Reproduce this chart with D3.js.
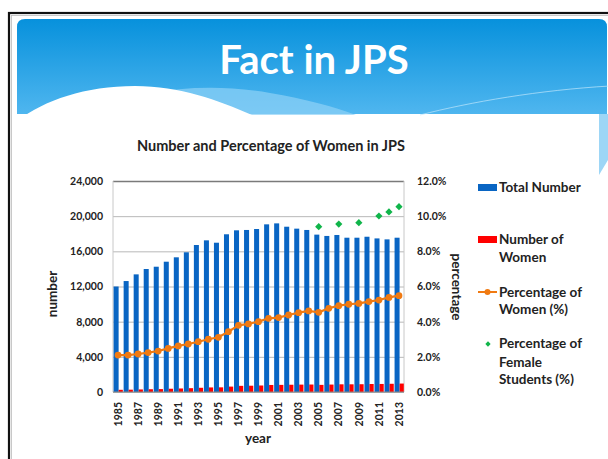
<!DOCTYPE html>
<html>
<head>
<meta charset="utf-8">
<script src="https://cdn.jsdelivr.net/npm/d3@7"></script>
<style>
  body { margin: 0; background: #fff; }
  text { font-family: Lato, "Open Sans", sans-serif; font-weight: bold; }
</style>
</head>
<body>
<div class="slide"></div>
<script>
var years = d3.range(1985, 2014);
var totalNumber = [12000, 12620, 13380, 13990, 14250, 14820, 15320, 15890, 16720, 17250,
  16980, 17940, 18390, 18430, 18540, 19070, 19180, 18800, 18580, 18430,
  17900, 17750, 17860, 17550, 17550, 17660, 17470, 17360, 17550];
var numberWomen = [250, 265, 290, 315, 330, 370, 400, 435, 480, 520,
  530, 615, 700, 715, 740, 800, 810, 825, 840, 850,
  810, 845, 875, 875, 885, 910, 915, 935, 960];
var pctWomen = [2.10, 2.10, 2.16, 2.24, 2.33, 2.48, 2.62, 2.73, 2.86, 3.00,
  3.11, 3.43, 3.79, 3.87, 4.00, 4.19, 4.23, 4.38, 4.51, 4.61,
  4.53, 4.76, 4.91, 4.99, 5.04, 5.14, 5.23, 5.38, 5.48];
var pctStudents = [null, null, null, null, null, null, null, null, null, null,
  null, null, null, null, null, null, null, null, null, null,
  9.40, null, 9.55, null, 9.63, null, 10.01, 10.24, 10.54];
var leftTicks = [0, 4000, 8000, 12000, 16000, 20000, 24000];
var rightTicks = [0, 2, 4, 6, 8, 10, 12];
var yearTicks = years.filter(function (y) { return y % 2 === 1; });

var W = 608, H = 459;
var svg = d3.select('.slide').append('svg')
  .attr('width', W).attr('height', H);

// ---- slide background ----
var defs = svg.append('defs');
var grad = defs.append('linearGradient').attr('id', 'hdr')
  .attr('x1', 0).attr('y1', 0).attr('x2', 0).attr('y2', 1);
grad.append('stop').attr('offset', '0%').attr('stop-color', '#0791dc');
grad.append('stop').attr('offset', '100%').attr('stop-color', '#4fb6ef');

svg.append('rect').attr('x', 9).attr('y', 13).attr('width', 620).attr('height', 470)
  .attr('fill', 'none').attr('stroke', '#111').attr('stroke-width', 2.2);
svg.append('rect').attr('x', 11.5).attr('y', 15.5).attr('width', 620).attr('height', 470)
  .attr('fill', 'none').attr('stroke', '#bbb').attr('stroke-width', 0.8);

svg.append('path')
  .attr('d', 'M17,114 L17,27 Q17,19 25,19 L599,19 Q607,19 607,27 L607,114 Z')
  .attr('fill', 'url(#hdr)');
svg.append('path')
  .attr('d', 'M150,93 C185,87 225,85 270,93 C305,99 335,107 356,115 L250,115 C220,103 190,95 150,93 Z')
  .attr('fill', '#8fd2f6').attr('opacity', 0.7);
svg.append('path')
  .attr('d', 'M420,115 C470,102 540,90 610,86')
  .attr('fill', 'none').attr('stroke', '#bfe6fb').attr('stroke-width', 1).attr('opacity', 0.7);
svg.append('path')
  .attr('d', 'M17,121 C45,100 85,86 135,86 C180,86 218,100 252,115 L17,115 Z')
  .attr('fill', '#fff');
svg.append('path')
  .attr('d', 'M599,114 L608,114 L608,160 L599,175 Z')
  .attr('fill', '#9dd6f6');

svg.append('text').attr('x', 314).attr('y', 74).attr('text-anchor', 'middle')
  .attr('fill', '#fff').style('font-size', '40px').text('Fact in JPS');

// ---- chart ----
var pLeft = 113, pRight = 404, pTop = 181, pBottom = 392;

var xScale = d3.scaleBand().domain(years).range([pLeft, pRight]).padding(0);
var yScale = d3.scaleLinear().domain([0, 24000]).range([pBottom, pTop]);
var y2Scale = d3.scaleLinear().domain([0, 12]).range([pBottom, pTop]);
var bw = xScale.bandwidth();

svg.append('text').attr('x', 271).attr('y', 151).attr('text-anchor', 'middle')
  .attr('fill', '#222').style('font-size', '14.5px')
  .text('Number and Percentage of Women in JPS');

// gridlines
svg.append('g').attr('class', 'grid')
  .attr('transform', 'translate(' + pLeft + ',0)')
  .call(d3.axisLeft(yScale).tickValues(leftTicks).tickSize(-(pRight - pLeft)).tickFormat(''))
  .call(function (g) {
    g.select('.domain').remove();
    g.selectAll('line').attr('stroke', '#b8b8b8').attr('stroke-width', 1);
    g.selectAll('.tick').filter(function (d) { return d === 24000; })
      .select('line').attr('stroke', '#7a7a7a').attr('stroke-width', 1.4);
  });
svg.append('line').attr('x1', pLeft).attr('x2', pLeft).attr('y1', pTop).attr('y2', pBottom)
  .attr('stroke', '#c8c8c8');
svg.append('line').attr('x1', pRight).attr('x2', pRight).attr('y1', pTop).attr('y2', pBottom)
  .attr('stroke', '#c8c8c8');

// bars
svg.selectAll('rect.total').data(totalNumber).enter().append('rect')
  .attr('class', 'total')
  .attr('x', function (d, i) { return xScale(years[i]) + bw * 0.06; })
  .attr('width', bw * 0.5)
  .attr('y', function (d) { return yScale(d); })
  .attr('height', function (d) { return yScale(0) - yScale(d); })
  .attr('fill', '#0965c3');

svg.selectAll('rect.women').data(numberWomen).enter().append('rect')
  .attr('class', 'women')
  .attr('x', function (d, i) { return xScale(years[i]) + bw * 0.56; })
  .attr('width', bw * 0.42)
  .attr('y', function (d) { return yScale(d); })
  .attr('height', function (d) { return yScale(0) - yScale(d); })
  .attr('fill', '#ff0000');

// axis line bottom
svg.append('line').attr('x1', pLeft).attr('x2', pRight).attr('y1', pBottom).attr('y2', pBottom)
  .attr('stroke', '#8a8a8a');

// percentage of women line
var cx = function (i) { return xScale(years[i]) + bw / 2; };
var line = d3.line()
  .x(function (d, i) { return cx(i); })
  .y(function (d) { return y2Scale(d); });
svg.append('path').datum(pctWomen).attr('d', line)
  .attr('fill', 'none').attr('stroke', '#f07a12').attr('stroke-width', 2.2);
svg.selectAll('circle.pw').data(pctWomen).enter().append('circle')
  .attr('class', 'pw')
  .attr('cx', function (d, i) { return cx(i); })
  .attr('cy', function (d) { return y2Scale(d); })
  .attr('r', 3.4).attr('fill', '#f07a12');

// percentage of female students (square turned 45deg)
var diamond = d3.symbol().type(d3.symbolSquare).size(26);
svg.selectAll('path.ps').data(pctStudents.map(function (d, i) { return { v: d, i: i }; })
  .filter(function (d) { return d.v !== null; }))
  .enter().append('path').attr('class', 'ps')
  .attr('d', diamond)
  .attr('transform', function (d) {
    return 'translate(' + cx(d.i) + ',' + y2Scale(d.v) + ') rotate(45)';
  })
  .attr('fill', '#10b54a');

// axes
svg.append('g').attr('transform', 'translate(' + (pLeft - 10) + ',0)')
  .call(d3.axisLeft(yScale).tickValues(leftTicks).tickSize(0).tickFormat(d3.format(',')))
  .call(function (g) {
    g.select('.domain').remove();
    g.selectAll('text').attr('fill', '#222').style('font-size', '10.5px').attr('x', 0);
  });

svg.append('g').attr('transform', 'translate(' + (pRight + 13) + ',0)')
  .call(d3.axisRight(y2Scale).tickValues(rightTicks).tickSize(0)
    .tickFormat(function (d) { return d.toFixed(1) + '%'; }))
  .call(function (g) {
    g.select('.domain').remove();
    g.selectAll('text').attr('fill', '#222').style('font-size', '10.5px').attr('x', 0);
  });

svg.append('g').attr('transform', 'translate(0,' + (pBottom + 10) + ')')
  .call(d3.axisBottom(xScale).tickValues(yearTicks).tickSize(0))
  .call(function (g) {
    g.select('.domain').remove();
    g.selectAll('text').attr('fill', '#222').style('font-size', '10.5px')
      .attr('transform', 'rotate(-90)')
      .attr('text-anchor', 'end')
      .attr('x', 0).attr('y', 0).attr('dy', '0.35em');
  });

svg.append('text').attr('x', 258).attr('y', 443).attr('text-anchor', 'middle')
  .attr('fill', '#222').style('font-size', '13.5px').text('year');
svg.append('text').attr('transform', 'translate(57,294) rotate(-90)')
  .attr('text-anchor', 'middle').attr('fill', '#222').style('font-size', '13.5px').text('number');
svg.append('text').attr('transform', 'translate(452,287) rotate(90)')
  .attr('text-anchor', 'middle').attr('fill', '#222').style('font-size', '13.5px').text('percentage');

// legend
var lg = svg.append('g').attr('class', 'legend');
lg.append('rect').attr('x', 478).attr('y', 184).attr('width', 19).attr('height', 7).attr('fill', '#0965c3');
lg.append('rect').attr('x', 478).attr('y', 236).attr('width', 19).attr('height', 7).attr('fill', '#ff0000');
lg.append('line').attr('x1', 478).attr('x2', 497).attr('y1', 292).attr('y2', 292)
  .attr('stroke', '#f07a12').attr('stroke-width', 2);
lg.append('circle').attr('cx', 487.5).attr('cy', 292).attr('r', 3).attr('fill', '#f07a12');
lg.append('path').attr('d', d3.symbol().type(d3.symbolSquare).size(14))
  .attr('transform', 'translate(488,344) rotate(45)').attr('fill', '#10b54a');

var legendLines = [
  ['Total Number', 192],
  ['Number of', 244], ['Women', 262],
  ['Percentage of', 297], ['Women (%)', 314],
  ['Percentage of', 348], ['Female', 367], ['Students (%)', 384]
];
lg.selectAll('text.lt').data(legendLines).enter().append('text')
  .attr('class', 'lt')
  .attr('x', 499).attr('y', function (d) { return d[1]; })
  .attr('fill', '#222').style('font-size', '13.5px')
  .text(function (d) { return d[0]; });
</script>
</body>
</html>
